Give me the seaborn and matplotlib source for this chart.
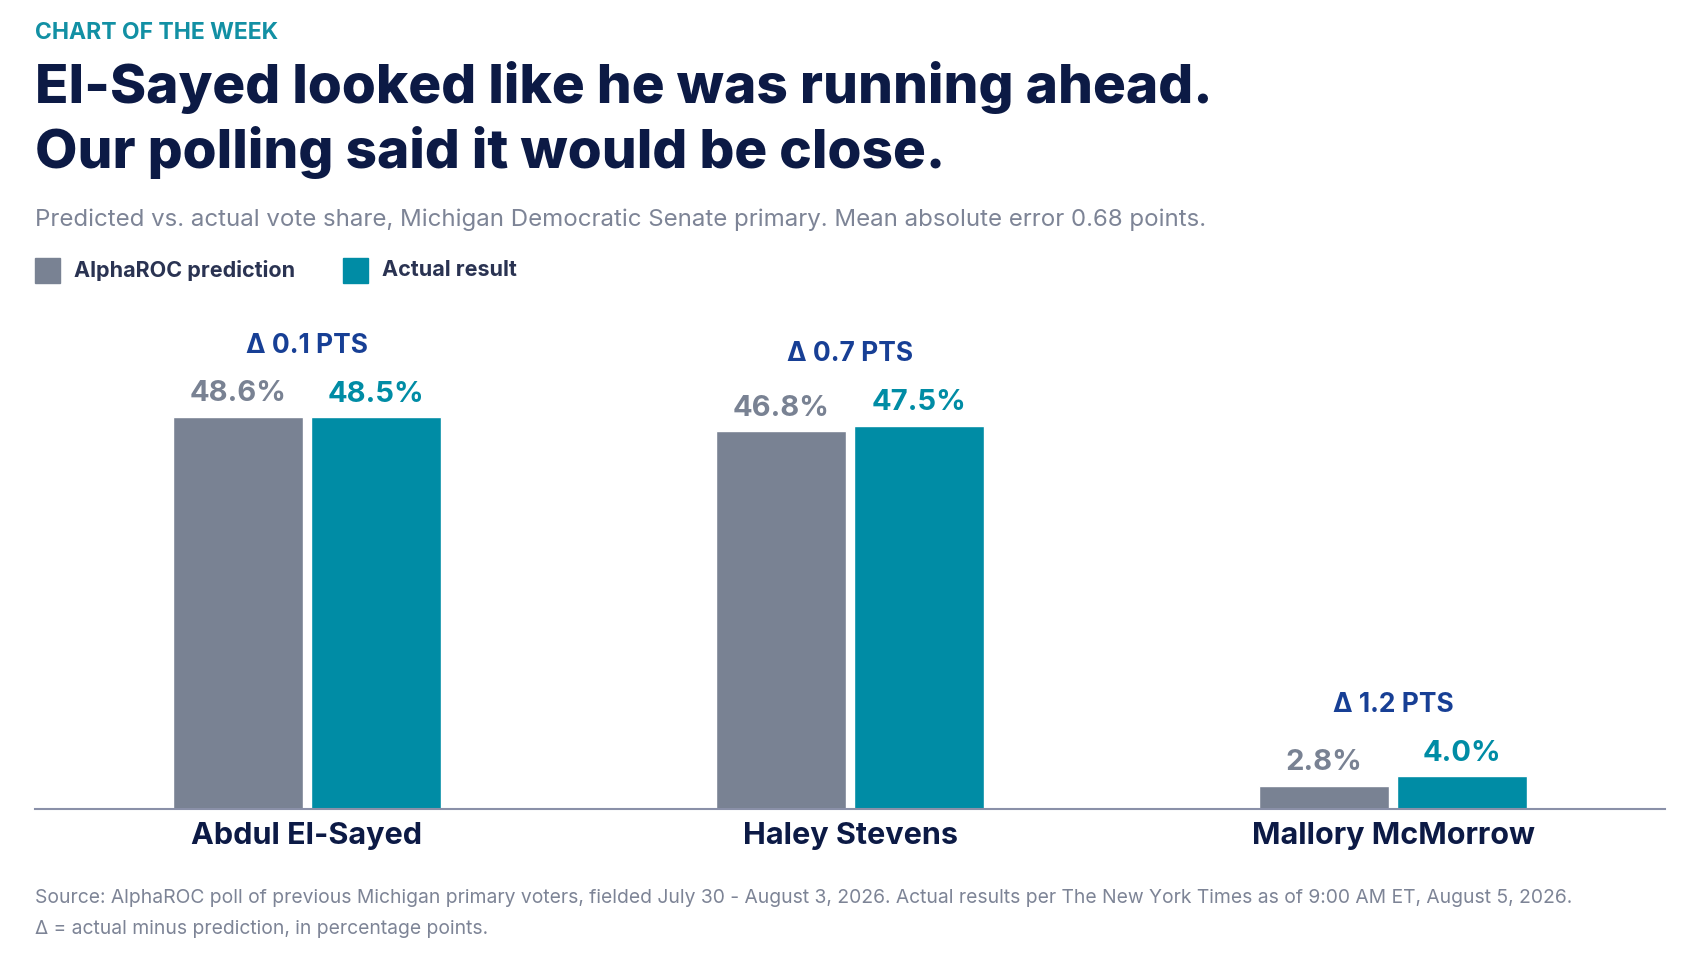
import matplotlib
matplotlib.use("Agg")
import matplotlib.pyplot as plt
import seaborn as sns
import pandas as pd

candidates = ["Abdul El-Sayed", "Haley Stevens", "Mallory McMorrow"]
predicted = [48.6, 46.8, 2.8]
actual = [48.5, 47.5, 4.0]
deltas = ["Δ 0.1 PTS", "Δ 0.7 PTS", "Δ 1.2 PTS"]
series = ["AlphaROC prediction", "Actual result"]

GRAY = "#798293"
TEAL = "#008ca5"
NAVY = "#0c1a45"
BLUE = "#173f95"

sns.set_theme(style="white")
plt.rcParams['font.family'] = ['Inter', 'DejaVu Sans']

df = pd.DataFrame({
    "candidate": candidates * 2,
    "series": [series[0]] * 3 + [series[1]] * 3,
    "value": predicted + actual,
})

fig = plt.figure(figsize=(16.9, 9.58), dpi=100)
ax = fig.add_axes([0.021, 0.156, 0.964, 0.505])
sns.barplot(data=df, x="candidate", y="value", hue="series", order=candidates,
            hue_order=series, palette=[GRAY, TEAL], width=0.51, gap=0.06,
            legend=False, ax=ax, saturation=1)
ax.set_xlim(-0.5, 2.5)
ax.set_ylim(0, 60)
ax.set_xlabel("")
ax.set_ylabel("")
ax.set_yticks([])
for s in ["top", "right", "left"]:
    ax.spines[s].set_visible(False)
ax.spines["bottom"].set_color("#8a90a8")
ax.spines["bottom"].set_linewidth(1.5)
ax.tick_params(axis="x", length=0, pad=10)
for t in ax.get_xticklabels():
    t.set_fontsize(22); t.set_fontweight("bold"); t.set_color(NAVY)

bars = ax.patches
for i, p in enumerate(bars[:6]):
    v = p.get_height()
    col = GRAY if i < 3 else TEAL
    ax.text(p.get_x() + p.get_width() / 2, v + 1.2, f"{v:.1f}%", ha="center", va="bottom",
            fontsize=21, fontweight="bold", color=col)
for j in range(3):
    top = max(predicted[j], actual[j])
    ax.text(j, top + 7.2, deltas[j], ha="center", va="bottom", fontsize=19,
            fontweight="bold", color=BLUE)

fig.text(0.021, 0.966, "CHART OF THE WEEK", fontsize=16.5, fontweight="bold", color="#1290a4",
         va="center")
fig.text(0.021, 0.909, "El-Sayed looked like he was running ahead.", fontsize=39.5,
         fontweight="heavy", color=NAVY, va="center")
fig.text(0.021, 0.841, "Our polling said it would be close.", fontsize=39.5,
         fontweight="heavy", color=NAVY, va="center")
fig.text(0.021, 0.771, "Predicted vs. actual vote share, Michigan Democratic Senate primary. Mean absolute error 0.68 points.",
         fontsize=17.3, color="#7d8496", va="center")
for x0, lab, c in [(0.021, series[0], GRAY), (0.203, series[1], TEAL)]:
    fig.patches.append(plt.Rectangle((x0, 0.705), 0.0145, 0.026, color=c,
                                     transform=fig.transFigure, figure=fig))
    fig.text(x0 + 0.023, 0.718, lab, fontsize=15.5, fontweight="bold", color="#2a3352", va="center")
fig.text(0.021, 0.063, "Source: AlphaROC poll of previous Michigan primary voters, fielded July 30 - August 3, 2026. Actual results per The New York Times as of 9:00 AM ET, August 5, 2026.",
         fontsize=13.9, color="#7d8496", va="center")
fig.text(0.021, 0.030, "Δ = actual minus prediction, in percentage points.",
         fontsize=13.9, color="#7d8496", va="center")

fig.savefig("out.png", dpi=100, facecolor="white")
